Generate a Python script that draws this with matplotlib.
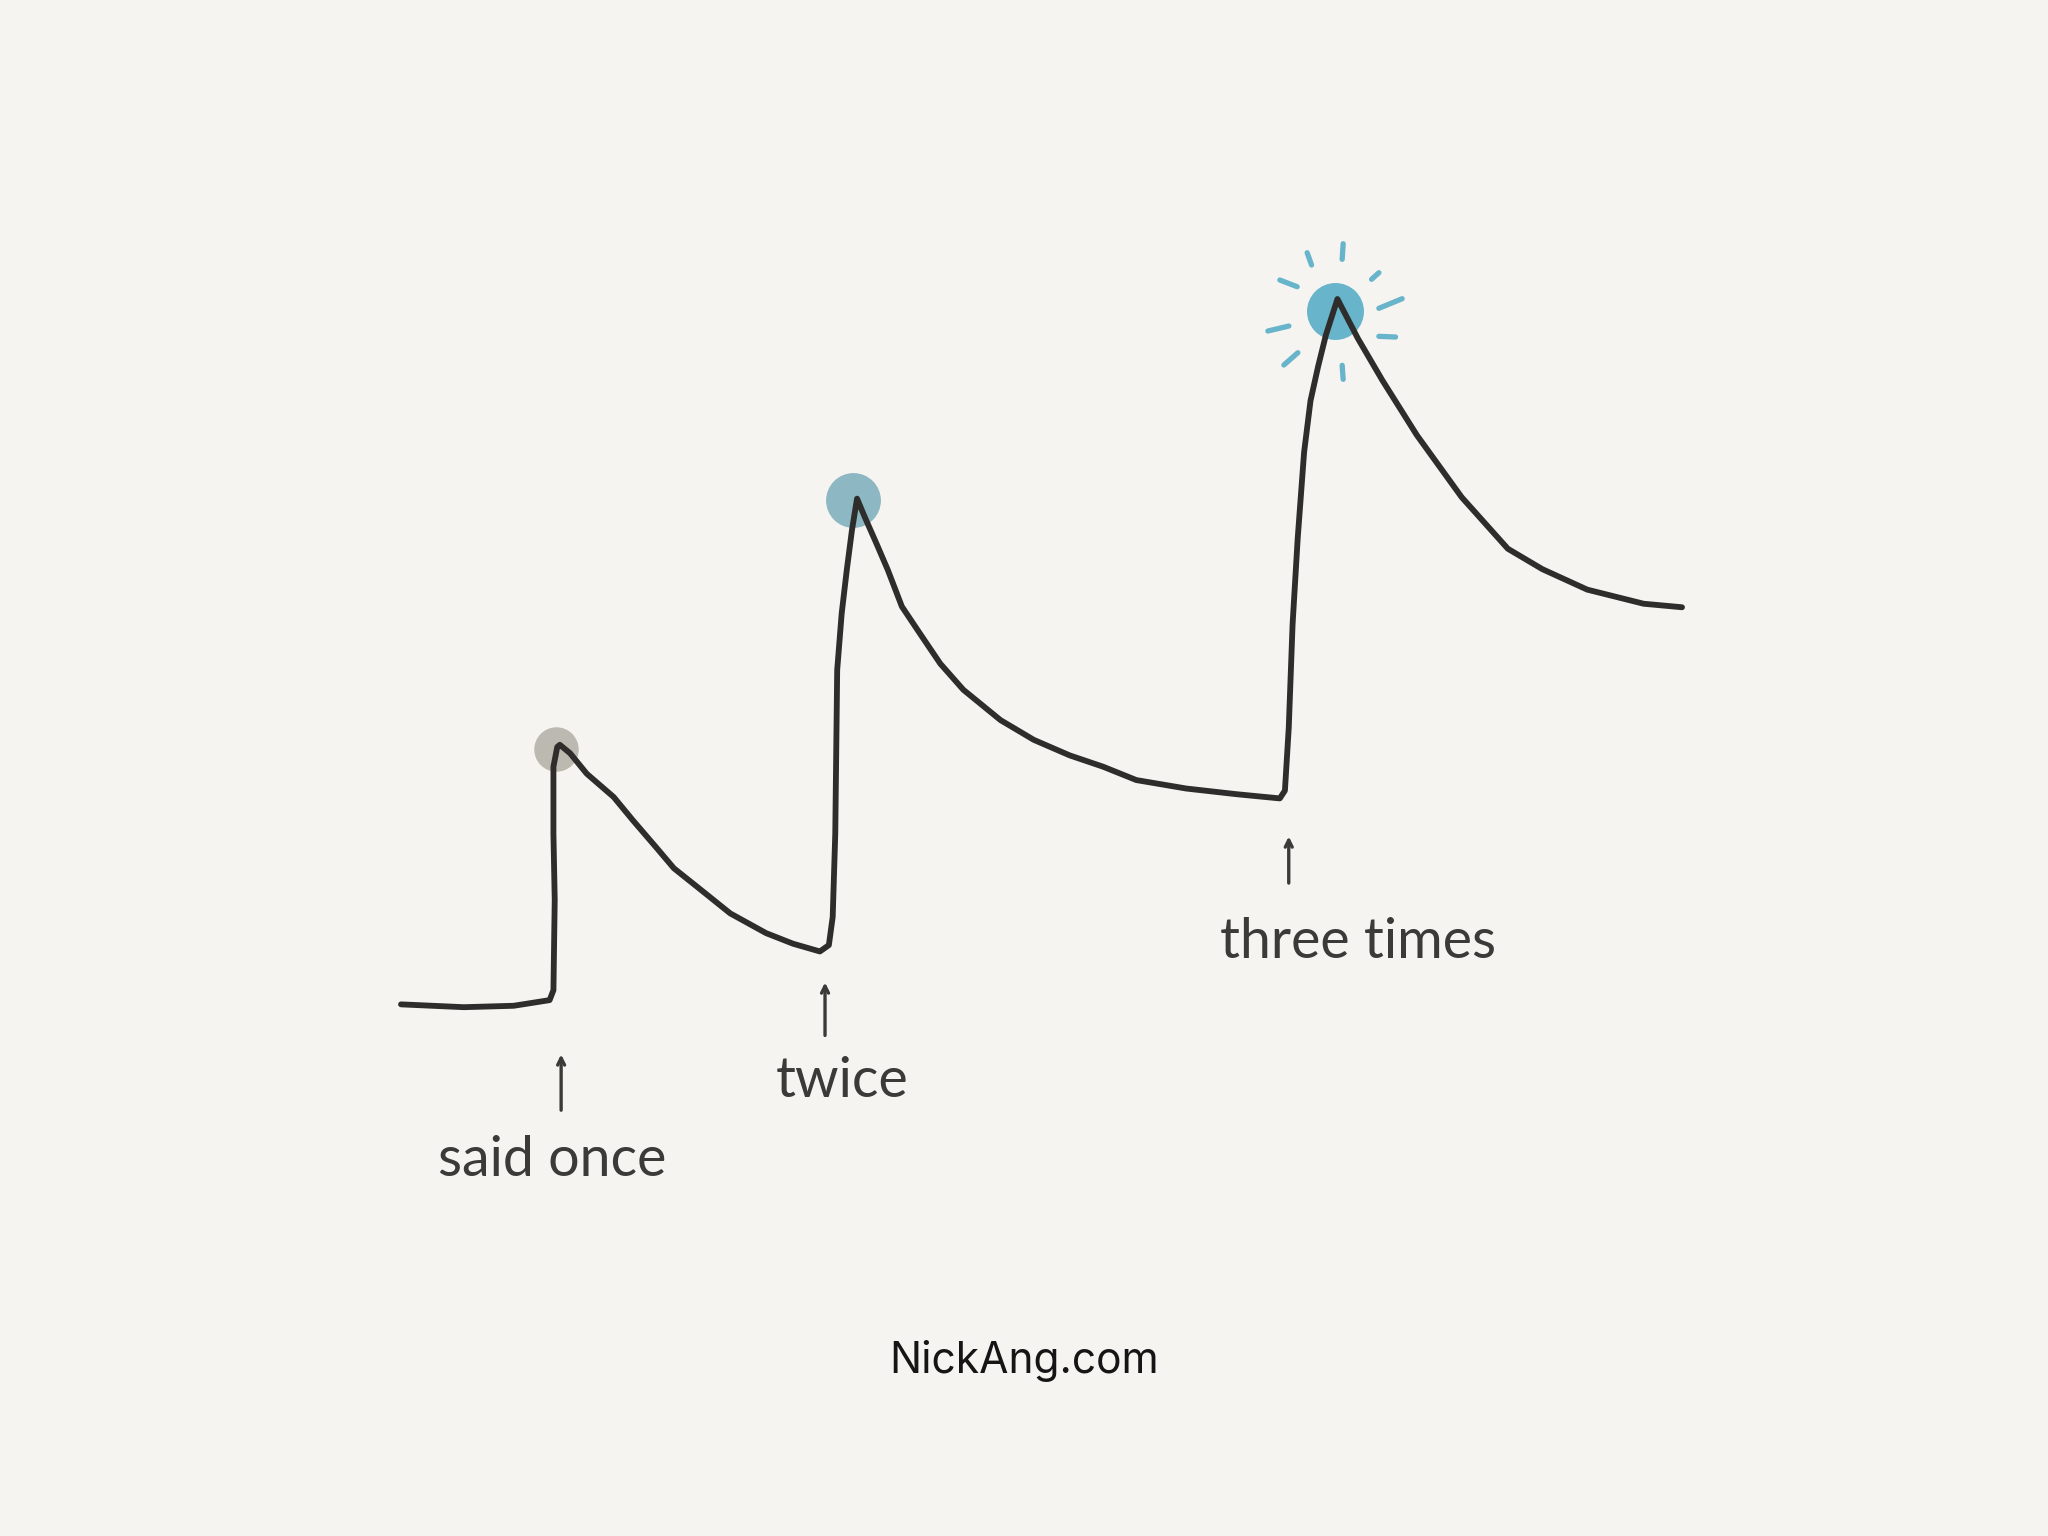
import numpy as np
import matplotlib
matplotlib.use("Agg")
import matplotlib.pyplot as plt

# memory strength after hearing something said once, twice, three times
# time (0-100) vs retention (0-100)
time = [0, 4.9, 8.8, 11.6, 11.9, 12.0, 11.9, 11.9, 12.2, 12.4,
        13.2, 14.5, 16.6, 18.1, 19.9, 21.3, 23.3, 25.7, 28.5, 30.6,
        32.7, 33.4, 33.7, 33.9, 34.05, 34.4, 34.8, 35.2, 35.6, 36.2,
        37.1, 38.0, 39.1, 40.5, 42.1, 43.9, 46.8, 49.4, 52.2, 54.8,
        57.4, 61.3, 65.2, 68.6, 69.0, 69.3, 69.6, 70.0, 70.5, 71.0,
        71.6, 72.2, 73.1, 74.7, 76.6, 79.3, 82.8, 86.4, 89.1, 92.6,
        97.0, 100]
retention = [0.2, -0.2, 0, 0.8, 2.2, 15.0, 24.4, 33.9, 36.7, 37.0,
             35.8, 32.9, 29.6, 26.3, 22.5, 19.5, 16.6, 13.1, 10.3, 8.8,
             7.7, 8.6, 12.6, 24.4, 47.6, 55.6, 61.8, 67.4, 71.9, 69.3,
             65.6, 61.8, 56.6, 52.8, 48.5, 44.8, 40.5, 37.7, 35.5, 33.9,
             32.0, 30.8, 30.0, 29.4, 30.5, 39.4, 54.1, 66.3, 78.5, 85.8,
             90.7, 95.1, 100.2, 94.6, 88.7, 80.9, 72.1, 64.8, 61.9, 59.0,
             57.0, 56.5]

# peak dots
dot_t = [12.1, 35.3, 72.9]
dot_r = [36.4, 71.7, 98.5]
dot_colors = ["#bcb9b1", "#8db8c3", "#67b4cb"]
dot_sizes = [32, 39.5, 41]

# labels with arrows
labels = ["said once", "twice", "three times"]
arrow_t = [12.5, 33.1, 69.3]
arrow_head = [-6.5, 3.7, 24.4]
arrow_tail = [-15.2, -4.6, 17.0]
label_t = [11.8, 34.4, 74.7]
label_r = [-21.9, -10.7, 8.9]

# sparkle dashes around the last peak, pixel offsets from the dot centre
ray_x0 = [-27.7, 8.3, 36.7, 44.0, 44.0, 7.3, -51.0, -67.0, -55.0]
ray_y0 = [58.3, 67.3, 31.7, 2.7, -25.3, -54.3, -54.0, -20.0, 31.0]
ray_x1 = [-23.3, 7.3, 44.0, 67.3, 60.7, 8.3, -37.0, -46.0, -37.7]
ray_y1 = [46.0, 51.7, 38.3, 12.3, -26.0, -68.3, -41.7, -15.0, 24.3]

bg = "#f5f4f0"
ink = "#2e2d2b"
fig = plt.figure(figsize=(20.48, 15.36), dpi=100, facecolor=bg)
ax = fig.add_axes([0.1958, 0.3452, 0.6255, 0.4592])
ax.set_facecolor(bg)
ax.set_xlim(0, 100)
ax.set_ylim(0, 100)
ax.axis("off")

for t, r, c, s in zip(dot_t, dot_r, dot_colors, dot_sizes):
    ax.plot(t, r, "o", color=c, markersize=s, markeredgewidth=0, zorder=2, clip_on=False)

ax.plot(time, retention, color=ink, lw=4.2, solid_joinstyle="round",
        solid_capstyle="round", zorder=3, clip_on=False)

# sparkle, drawn in pixels around the top dot
cx, cy = ax.transData.transform((dot_t[2], dot_r[2]))
for x0, y0, x1, y1 in zip(ray_x0, ray_y0, ray_x1, ray_y1):
    fig.add_artist(plt.Line2D([cx + x0, cx + x1], [cy + y0, cy + y1], transform=None,
                              color="#67b4cb", lw=3.8, solid_capstyle="round"))

for txt, at, ah, atl, lt, lr in zip(labels, arrow_t, arrow_head, arrow_tail, label_t, label_r):
    ax.annotate("", xy=(at, ah), xytext=(at, atl),
                arrowprops=dict(arrowstyle="->,head_length=0.5,head_width=0.25",
                                color="#3a3a38", lw=2.4), annotation_clip=False)
    ax.text(lt, lr, txt, ha="center", va="center", fontsize=40, color="#3a3a38",
            family="Lato", fontweight="normal", clip_on=False)

fig.text(0.5, 1 - 1361 / 1536, "NickAng.com", ha="center", va="center",
         fontsize=30.6, family="Inter", color="#151515")

fig.savefig("out.png", dpi=100, facecolor=bg)
